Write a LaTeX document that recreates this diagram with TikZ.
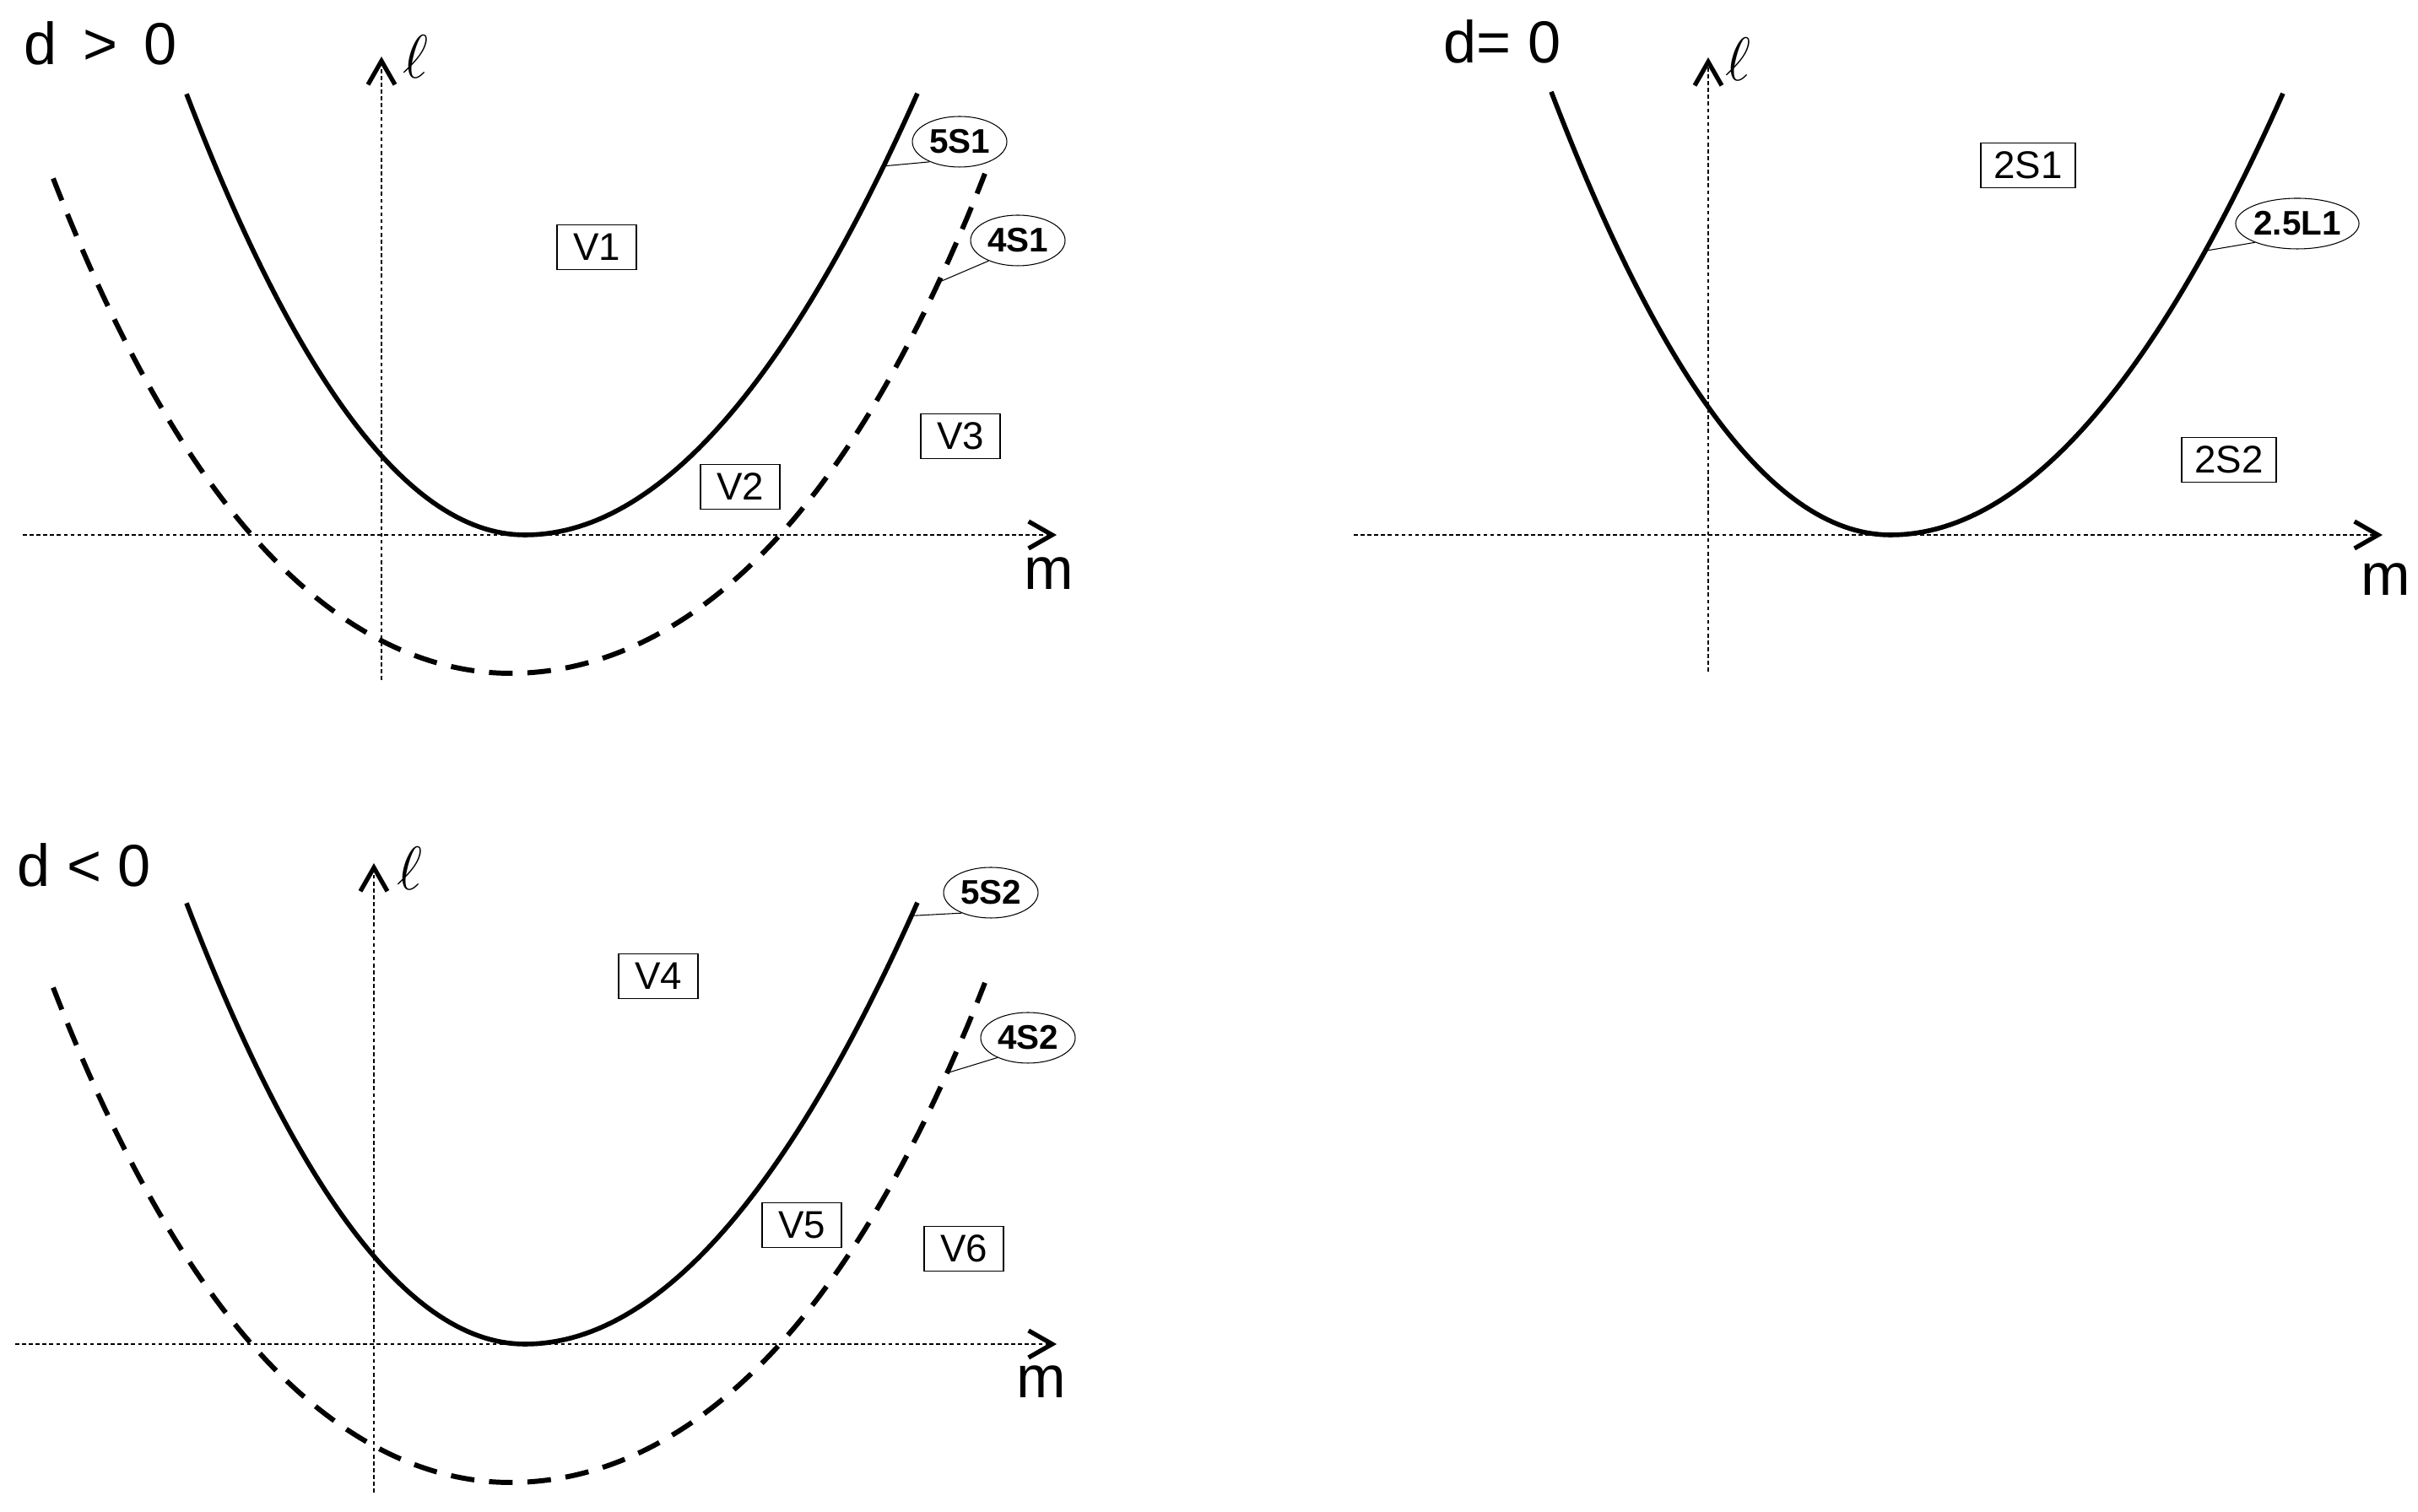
\documentclass[tikz,border=0pt]{standalone}
\usepackage{fontspec}
\setmainfont{Liberation Sans}
\usetikzlibrary{arrows.meta,shapes.geometric}
% coefficients of the two branches (left / right of the vertex)
\def\kSolL{0.325}
\def\kSolR{0.242}

\tikzset{
	axisline/.style={line width=0.3pt, dash pattern=on 1.3pt off 1pt,
		-{Straight Barb[length=0.28cm, width=0.32cm, line width=1.5pt]}},
	curvesolid/.style={line width=1.6pt, samples=60},
	curvedash/.style={line width=1.7pt, samples=80, dash pattern=on 7.97pt off 4.98pt},
	axistext/.style={inner sep=0pt, font=\fontsize{20}{24}\selectfont},
	titletext/.style={inner sep=0pt, font=\fontsize{20}{24}\selectfont},
	regionbox/.style={draw, line width=0.35pt, inner sep=0pt, minimum width=0.94cm,
		minimum height=0.53cm, font=\fontsize{13}{13}\selectfont},
	bifellipse/.style={ellipse, draw, line width=0.3pt, inner sep=0pt, minimum width=1.12cm,
		minimum height=0.60cm, font=\bfseries\fontsize{11.5}{11.5}\selectfont},
	leader/.style={line width=0.3pt}
}

\begin{document}
\begin{tikzpicture}
	\useasboundingbox (0,0) rectangle (28.65,17.92);
	
	%%%%% d > 0 %%%%%
	\begin{scope}[shift={(4.52,11.58)}]
		\coordinate (mA1) at (-4.25,0);
		\coordinate (mB1) at (8.00,0);
		\coordinate (lA1) at (0,-1.72);
		\coordinate (lB1) at (0,5.67);
		\draw[axisline] (mA1) -- (mB1);
		\draw[axisline] (lA1) -- (lB1);
		\node[axistext] (m1) at (7.91,-0.46) {m};
		\node[axistext] (ell1) at (0.40,5.67) {$\ell$};
		\node[titletext] (title1) at (-3.33,5.83) {d \,> \,0};
		
		\draw[curvesolid] plot[domain=-4.01:0] ({1.70+\x},{\kSolL*\x*\x})
			-- plot[domain=0:4.65] ({1.70+\x},{\kSolR*\x*\x});
		\draw[curvedash] plot[domain=-5.42:0] ({1.53+\x},{-1.64+0.162*\x*\x+0.00128*\x*\x*\x*\x})
			-- plot[domain=0:5.62] ({1.53+\x},{-1.64+0.1485*\x*\x+0.00124*\x*\x*\x*\x});
		
		\node[regionbox] (V1) at (2.55,3.41) {V1};
		\node[regionbox] (V2) at (4.25,0.57) {V2};
		\node[regionbox] (V3) at (6.86,1.17) {V3};
		
		\node[bifellipse] (e5S1) at (6.85,4.66) {5S1};
		\node[bifellipse] (e4S1) at (7.54,3.49) {4S1};
		\coordinate (p5S1) at (5.95,{\kSolR*4.25*4.25});
		\coordinate (p4S1) at (6.60,{-1.64+0.1485*5.07*5.07+0.00124*5.07^4});
		\draw[leader] (e5S1.214) -- (p5S1);
		\draw[leader] (e4S1.215) -- (p4S1);
	\end{scope}
	
	%%%%% d = 0 %%%%%
	\begin{scope}[shift={(20.24,11.58)}]
		\coordinate (mA2) at (-4.20,0);
		\coordinate (mB2) at (7.99,0);
		\coordinate (lA2) at (0,-1.62);
		\coordinate (lB2) at (0,5.66);
		\draw[axisline] (mA2) -- (mB2);
		\draw[axisline] (lA2) -- (lB2);
		\node[axistext] (m2) at (8.03,-0.53) {m};
		\node[axistext] (ell2) at (0.35,5.64) {$\ell$};
		\node[titletext] (title2) at (-2.44,5.85) {d= 0};
		
		\draw[curvesolid] plot[domain=-4.02:0] ({2.16+\x},{\kSolL*\x*\x})
			-- plot[domain=0:4.65] ({2.16+\x},{\kSolR*\x*\x});
		
		\node[regionbox, minimum width=1.12cm] (S21) at (3.79,4.38) {2S1};
		\node[regionbox, minimum width=1.12cm] (S22) at (6.17,0.89) {2S2};
		
		\node[bifellipse, minimum width=1.43cm] (e25L1) at (6.98,3.69) {2.5L1};
		\coordinate (p25L1) at (5.89,{\kSolR*3.73*3.73});
		\draw[leader] (e25L1.204) -- (p25L1);
	\end{scope}
	
	%%%%% d < 0 %%%%%
	\begin{scope}[shift={(4.52,1.99)}]
		\coordinate (mA3) at (-4.34,0);
		\coordinate (mB3) at (8.00,0);
		\coordinate (lA3) at (-0.09,-1.76);
		\coordinate (lB3) at (-0.09,5.70);
		\draw[axisline] (mA3) -- (mB3);
		\draw[axisline] (lA3) -- (lB3);
		\node[axistext] (m3) at (7.82,-0.45) {m};
		\node[axistext] (ell3) at (0.33,5.64) {$\ell$};
		\node[titletext] (title3) at (-3.52,5.68) {d < 0};
		
		\draw[curvesolid] plot[domain=-4.01:0] ({1.70+\x},{\kSolL*\x*\x})
			-- plot[domain=0:4.65] ({1.70+\x},{\kSolR*\x*\x});
		\draw[curvedash] plot[domain=-5.42:0] ({1.53+\x},{-1.64+0.162*\x*\x+0.00128*\x*\x*\x*\x})
			-- plot[domain=0:5.62] ({1.53+\x},{-1.64+0.1485*\x*\x+0.00124*\x*\x*\x*\x});
		
		\node[regionbox] (V4) at (3.28,4.36) {V4};
		\node[regionbox] (V5) at (4.98,1.41) {V5};
		\node[regionbox] (V6) at (6.90,1.13) {V6};
		
		\node[bifellipse] (e5S2) at (7.22,5.35) {5S2};
		\node[bifellipse] (e4S2) at (7.66,3.63) {4S2};
		\coordinate (p5S2) at (6.28,{\kSolR*4.58*4.58});
		\coordinate (p4S2) at (6.70,{-1.64+0.1485*5.17*5.17+0.00124*5.17^4});
		\draw[leader] (e5S2.215) -- (p5S2);
		\draw[leader] (e4S2.213) -- (p4S2);
	\end{scope}
\end{tikzpicture}
\end{document}
